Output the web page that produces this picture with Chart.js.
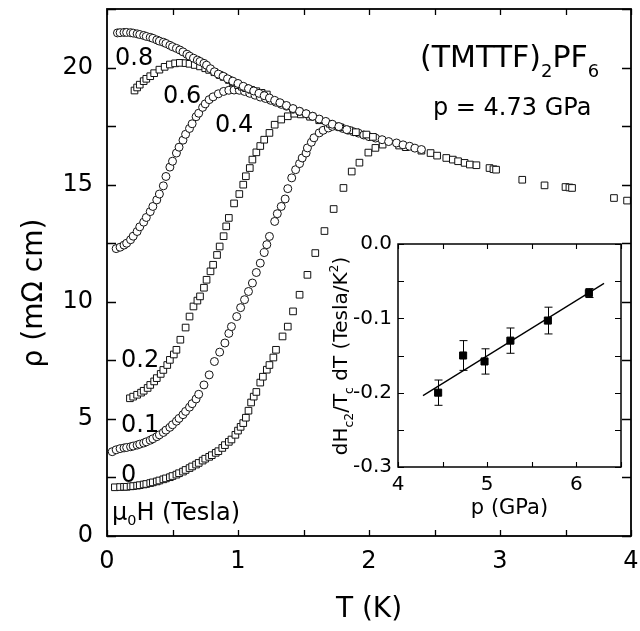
<!DOCTYPE html>
<html><head><meta charset="utf-8">
<script src="https://cdn.jsdelivr.net/npm/chart.js@4.4.0/dist/chart.umd.min.js"></script>
<style>
html,body{margin:0;padding:0;background:#fff;}
#wrap{position:relative;width:640px;height:631px;overflow:hidden;}
#main{position:absolute;left:0;top:0;}
#inset{position:absolute;left:320px;top:230px;}
</style></head><body>
<div id="wrap"><canvas id="main" width="640" height="631"></canvas><canvas id="inset" width="310" height="300"></canvas></div>
<script>
const FONT = '"DejaVu Sans", "Liberation Sans", Arial, sans-serif';

// ---- main panel: rho(T) at several fields, [T (K), rho (mOhm cm)] ----
const rho_0T = [[0.06,2.08],[0.10,2.09],[0.13,2.10],[0.15,2.10],[0.18,2.12],[0.20,2.13],[0.23,2.15],[0.25,2.17],[0.28,2.20],[0.30,2.22],[0.33,2.26],[0.35,2.29],[0.38,2.33],[0.40,2.37],[0.43,2.42],[0.45,2.46],[0.48,2.51],[0.50,2.56],[0.53,2.62],[0.55,2.68],[0.58,2.75],[0.60,2.82],[0.63,2.90],[0.65,2.97],[0.68,3.05],[0.70,3.12],[0.73,3.22],[0.75,3.30],[0.78,3.38],[0.80,3.45],[0.83,3.55],[0.85,3.62],[0.88,3.76],[0.90,3.88],[0.93,4.02],[0.95,4.12],[0.98,4.32],[1.00,4.50],[1.02,4.66],[1.04,4.82],[1.06,5.05],[1.08,5.35],[1.10,5.70],[1.12,5.95],[1.14,6.15],[1.17,6.55],[1.19,6.80],[1.22,7.10],[1.24,7.30],[1.27,7.62],[1.29,7.95],[1.34,8.52],[1.38,8.94],[1.42,9.59],[1.47,10.30],[1.53,11.15],[1.59,12.08],[1.66,13.02],[1.73,13.96],[1.805,14.86],[1.868,15.56],[1.927,15.94],[1.995,16.37],[2.049,16.57],[2.104,16.71],[2.23,16.67],[2.28,16.60],[2.40,16.45],[2.47,16.35],[2.52,16.24],[2.59,16.14],[2.64,16.07],[2.68,16.00],[2.73,15.93],[2.77,15.86],[2.82,15.83],[2.92,15.71],[2.95,15.66],[2.97,15.64],[3.17,15.21],[3.34,14.97],[3.50,14.90],[3.53,14.88],[3.55,14.86],[3.87,14.43],[3.97,14.32]];
const rho_01T = [[0.04,3.60],[0.07,3.68],[0.10,3.73],[0.13,3.76],[0.15,3.78],[0.18,3.81],[0.20,3.84],[0.23,3.88],[0.25,3.92],[0.28,3.97],[0.30,4.02],[0.33,4.09],[0.35,4.15],[0.38,4.24],[0.40,4.32],[0.43,4.42],[0.45,4.52],[0.48,4.64],[0.50,4.75],[0.53,4.90],[0.55,5.02],[0.58,5.18],[0.60,5.32],[0.63,5.50],[0.65,5.65],[0.68,5.85],[0.70,6.05],[0.74,6.45],[0.78,6.88],[0.82,7.45],[0.86,7.85],[0.90,8.24],[0.93,8.65],[0.95,8.94],[0.99,9.37],[1.02,9.75],[1.05,10.09],[1.08,10.44],[1.11,10.80],[1.14,11.25],[1.17,11.65],[1.20,12.10],[1.22,12.44],[1.24,12.79],[1.28,13.43],[1.30,13.76],[1.33,14.07],[1.36,14.39],[1.38,14.83],[1.41,15.29],[1.44,15.64],[1.47,15.90],[1.49,16.14],[1.52,16.35],[1.53,16.57],[1.56,16.81],[1.58,17.00],[1.62,17.21],[1.65,17.32],[1.69,17.42],[1.72,17.49],[1.76,17.48],[1.80,17.40],[1.84,17.33],[1.88,17.26],[1.92,17.20],[1.96,17.12],[2.00,17.05],[2.05,16.99],[2.10,16.92],[2.15,16.84],[2.21,16.78],[2.26,16.70],[2.31,16.64],[2.35,16.56],[2.40,16.50]];
const rho_02T = [[0.175,5.88],[0.20,5.95],[0.23,6.03],[0.26,6.12],[0.28,6.20],[0.31,6.32],[0.33,6.45],[0.36,6.60],[0.38,6.74],[0.41,6.92],[0.43,7.09],[0.46,7.30],[0.48,7.52],[0.51,7.75],[0.53,7.95],[0.56,8.38],[0.60,8.90],[0.63,9.37],[0.66,9.80],[0.69,10.05],[0.71,10.23],[0.74,10.60],[0.76,10.94],[0.79,11.30],[0.81,11.58],[0.84,12.00],[0.86,12.36],[0.89,12.80],[0.91,13.22],[0.93,13.58],[0.97,14.20],[1.01,14.60],[1.04,15.00],[1.06,15.36],[1.09,15.71],[1.11,16.07],[1.14,16.38],[1.17,16.65],[1.20,16.92],[1.24,17.21],[1.28,17.56],[1.33,17.78],[1.38,17.92],[1.43,18.03],[1.48,18.00],[1.55,17.90],[1.62,17.75],[1.70,17.60],[1.78,17.45],[1.85,17.32],[1.90,17.24],[1.98,17.14],[2.03,17.04]];
const rho_04T = [[0.07,12.27],[0.10,12.33],[0.13,12.42],[0.15,12.50],[0.18,12.65],[0.20,12.80],[0.23,13.00],[0.25,13.20],[0.28,13.40],[0.30,13.60],[0.33,13.85],[0.35,14.07],[0.38,14.35],[0.40,14.60],[0.43,14.95],[0.45,15.35],[0.48,15.75],[0.50,16.00],[0.53,16.35],[0.55,16.60],[0.58,16.90],[0.60,17.15],[0.63,17.40],[0.65,17.60],[0.68,17.90],[0.70,18.05],[0.73,18.30],[0.75,18.45],[0.78,18.63],[0.81,18.75],[0.85,18.88],[0.89,18.98],[0.93,19.03],[0.97,19.04],[1.01,19.03],[1.05,18.98],[1.09,18.90],[1.13,18.82],[1.17,18.74],[1.21,18.68],[1.25,18.60],[1.29,18.52],[1.33,18.43],[1.37,18.35],[1.42,18.22],[1.47,18.13],[1.52,18.02],[1.57,17.92],[1.62,17.80],[1.67,17.70],[1.72,17.58],[1.77,17.48],[1.83,17.35]];
const rho_06T = [[0.21,19.02],[0.23,19.15],[0.25,19.27],[0.28,19.42],[0.30,19.52],[0.33,19.63],[0.36,19.76],[0.40,19.91],[0.44,20.03],[0.48,20.13],[0.52,20.18],[0.556,20.20],[0.60,20.19],[0.63,20.16],[0.67,20.11],[0.71,20.05],[0.75,19.97],[0.78,19.90],[0.82,19.80],[0.86,19.68],[0.89,19.60],[0.93,19.47],[0.96,19.37],[1.00,19.25],[1.03,19.18],[1.06,19.12],[1.10,19.05],[1.14,18.99],[1.18,18.92],[1.22,18.85]];
const rho_08T = [[0.08,21.48],[0.10,21.49],[0.13,21.50],[0.15,21.50],[0.18,21.49],[0.20,21.47],[0.23,21.44],[0.25,21.41],[0.28,21.37],[0.30,21.33],[0.33,21.29],[0.35,21.25],[0.38,21.18],[0.40,21.13],[0.43,21.08],[0.45,21.03],[0.48,20.95],[0.50,20.89],[0.53,20.82],[0.556,20.75],[0.58,20.67],[0.61,20.57],[0.63,20.49],[0.66,20.40],[0.69,20.32],[0.71,20.26],[0.74,20.18],[0.76,20.10],[0.79,19.95],[0.82,19.82],[0.85,19.72],[0.886,19.63],[0.92,19.52],[0.96,19.42],[1.00,19.32],[1.04,19.20],[1.08,19.10],[1.12,19.00],[1.16,18.90],[1.20,18.80],[1.24,18.70],[1.28,18.60],[1.32,18.50],[1.37,18.38],[1.42,18.25],[1.47,18.13],[1.52,18.03],[1.57,17.92]];
const fieldLabels = ['0', '0.1', '0.2', '0.4', '0.6', '0.8'];
const xTickStep = 1, yTickStep = 5;

// ---- inset: dHc2/TcdT vs pressure ----
const pGPa = [4.45, 4.73, 4.97, 5.26, 5.68, 6.14];
const slope = [-0.200, -0.150, -0.158, -0.130, -0.103, -0.066];
const slopeErr = [0.017, 0.020, 0.017, 0.017, 0.018, 0.006];
const fitP = [4.28, 6.31];
const fitS = [-0.204, -0.053];

function pts(arr){ return arr.map(p => ({x:p[0], y:p[1]})); }
function ser(arr, style, r){
  return {data: pts(arr), showLine:false, pointStyle:style, pointRadius:r, pointHoverRadius:r,
    pointBackgroundColor:'#fff', pointBorderColor:'#111', pointBorderWidth:1, clip:false};
}
function noPad(s){ s.paddingTop = 0; s.paddingBottom = 0; s.paddingLeft = 0; s.paddingRight = 0; }

function rich(ctx, x, y, segs, size, opt){
  opt = opt || {};
  ctx.save(); ctx.translate(x, y); if (opt.rot) ctx.rotate(opt.rot);
  ctx.fillStyle = '#000'; ctx.textBaseline = 'alphabetic'; ctx.textAlign = 'left';
  const subF = opt.subF || 0.62, subD = opt.subD || 0.3, supD = opt.supD || 0.42;
  let total = 0;
  const parts = segs.map(s => { const fs = s.k ? size*subF : size; ctx.font = fs + 'px ' + FONT; const w = ctx.measureText(s.t).width; total += w; return {s, fs, w}; });
  let cx = opt.center ? -total/2 : 0;
  for (const p of parts){
    ctx.font = p.fs + 'px ' + FONT;
    const dy = p.s.k === 'sub' ? size*subD : (p.s.k === 'sup' ? -size*supD : 0);
    ctx.fillText(p.s.t, cx, dy); cx += p.w;
  }
  ctx.restore();
}

function frame(chart, c){
  const {ctx, chartArea:a, scales:{x, y}} = chart;
  ctx.save(); ctx.strokeStyle = '#000';
  ctx.lineWidth = c.tw; ctx.beginPath();
  for (let v = x.min; v <= x.max + 1e-9; v += c.xs){
    const px = Math.round(x.getPixelForValue(v)) + 0.5;
    ctx.moveTo(px, a.bottom); ctx.lineTo(px, a.bottom - c.xl);
    ctx.moveTo(px, a.top); ctx.lineTo(px, a.top + c.xl);
  }
  for (let v = y.min; v <= y.max + 1e-9; v += c.ys){
    const py = Math.round(y.getPixelForValue(v)) + 0.5;
    ctx.moveTo(a.left, py); ctx.lineTo(a.left + c.yl, py);
    ctx.moveTo(a.right, py); ctx.lineTo(a.right - c.yl, py);
  }
  ctx.stroke();
  ctx.lineWidth = c.lw;
  ctx.strokeRect(a.left, a.top, a.right - a.left, a.bottom - a.top);
  ctx.restore();
}

const mainPlugin = {
  id:'mainDeco',
  afterDraw(chart){
    frame(chart, {xs:0.5, ys:2.5, xl:6, yl:9, tw:1.3, lw:1.8});
    const ctx = chart.ctx;
    const L = fieldLabels;
    const lab = [[L[0],121,482],[L[1],121,432],[L[2],121,367],[L[3],215,132],[L[4],163,103],[L[5],115,65]];
    for (const [t, x, y] of lab) rich(ctx, x, y, [{t}], 24);
    rich(ctx, 112, 520, [{t:'\u03bc'},{t:'0',k:'sub'},{t:'H (Tesla)'}], 24, {subF:0.6, subD:0.22});
    rich(ctx, 420, 67, [{t:'(TMTTF)'},{t:'2',k:'sub'},{t:'PF'},{t:'6',k:'sub'}], 30, {subF:0.6, subD:0.32});
    rich(ctx, 433, 115, [{t:'p = 4.73 GPa'}], 24);
    rich(ctx, 42, 293, [{t:'\u03c1 (m\u03a9 cm)'}], 28, {rot:-Math.PI/2, center:true});
  }
};

new Chart(document.getElementById('main'), {
  type:'scatter',
  data:{datasets:[ser(rho_08T,'circle',4), ser(rho_06T,'rect',4.7), ser(rho_04T,'circle',4), ser(rho_02T,'rect',4.7), ser(rho_01T,'circle',4), ser(rho_0T,'rect',4.7)]},
  options:{
    responsive:false, animation:false, devicePixelRatio:1,
    layout:{padding:{left:0, right:9, top:9, bottom:0}},
    plugins:{legend:{display:false}, tooltip:{enabled:false}},
    scales:{
      x:{type:'linear', min:0, max:4,
        ticks:{stepSize:xTickStep, includeBounds:false, maxRotation:0, padding:11, color:'#000', font:{size:24, family:FONT}},
        grid:{display:false, drawTicks:false}, border:{display:false},
        title:{display:true, text:'T (K)', color:'#000', font:{size:28, family:FONT}, padding:{top:0, bottom:4}},
        afterFit(s){ s.height = 95; noPad(s); }},
      y:{type:'linear', min:0, max:22.5,
        ticks:{stepSize:yTickStep, includeBounds:false, padding:14, color:'#000', font:{size:24, family:FONT}},
        grid:{display:false, drawTicks:false}, border:{display:false},
        afterFit(s){ s.width = 107; noPad(s); }}
    }
  },
  plugins:[mainPlugin]
});

const insetPlugin = {
  id:'insetDeco',
  afterDatasetsDraw(chart){
    const {ctx, scales:{x, y}} = chart;
    ctx.save(); ctx.strokeStyle = '#000'; ctx.lineWidth = 1; ctx.beginPath();
    for (let i = 0; i < pGPa.length; i++){
      const px = Math.round(x.getPixelForValue(pGPa[i])) + 0.5;
      const y1 = y.getPixelForValue(slope[i] + slopeErr[i]);
      const y2 = y.getPixelForValue(slope[i] - slopeErr[i]);
      ctx.moveTo(px, y1); ctx.lineTo(px, y2);
      ctx.moveTo(px - 4, y1); ctx.lineTo(px + 4, y1);
      ctx.moveTo(px - 4, y2); ctx.lineTo(px + 4, y2);
    }
    ctx.stroke(); ctx.restore();
  },
  afterDraw(chart){
    frame(chart, {xs:0.5, ys:0.05, xl:5, yl:6, tw:1.1, lw:1.5});
    rich(chart.ctx, 27, 126, [{t:'dH'},{t:'c2',k:'sub'},{t:'/T'},{t:'c',k:'sub'},{t:' dT (Tesla/K'},{t:'2',k:'sup'},{t:')'}], 20,
      {rot:-Math.PI/2, center:true, subF:0.62, subD:0.28, supD:0.45});
  }
};

new Chart(document.getElementById('inset'), {
  type:'scatter',
  data:{datasets:[
    {data: pGPa.map((p, i) => ({x:p, y:slope[i]})), showLine:false, pointStyle:'rect', pointRadius:5, pointHoverRadius:5,
      pointBackgroundColor:'#000', pointBorderColor:'#000', pointBorderWidth:1, clip:false},
    {data: fitP.map((p, i) => ({x:p, y:fitS[i]})), showLine:true, borderColor:'#000', borderWidth:1.3, pointRadius:0, fill:false}
  ]},
  options:{
    responsive:false, animation:false, devicePixelRatio:1,
    layout:{padding:{left:0, right:9, top:14, bottom:0}},
    plugins:{legend:{display:false}, tooltip:{enabled:false}},
    scales:{
      x:{type:'linear', min:4, max:6.5,
        ticks:{stepSize:1, includeBounds:false, maxRotation:0, padding:6, color:'#000', font:{size:20, family:FONT}},
        grid:{display:false, drawTicks:false}, border:{display:false},
        title:{display:true, text:'p (GPa)', color:'#000', font:{size:21, family:FONT}, padding:{top:0, bottom:9}},
        afterFit(s){ s.height = 63; noPad(s); }},
      y:{type:'linear', min:-0.3, max:0,
        ticks:{stepSize:0.1, includeBounds:false, padding:6, color:'#000', font:{size:20, family:FONT},
          callback:(v) => (Math.abs(v) < 1e-9 ? 0 : v).toFixed(1)},
        grid:{display:false, drawTicks:false}, border:{display:false},
        afterFit(s){ s.width = 78; noPad(s); }}
    }
  },
  plugins:[insetPlugin]
});
</script>
</body></html>
